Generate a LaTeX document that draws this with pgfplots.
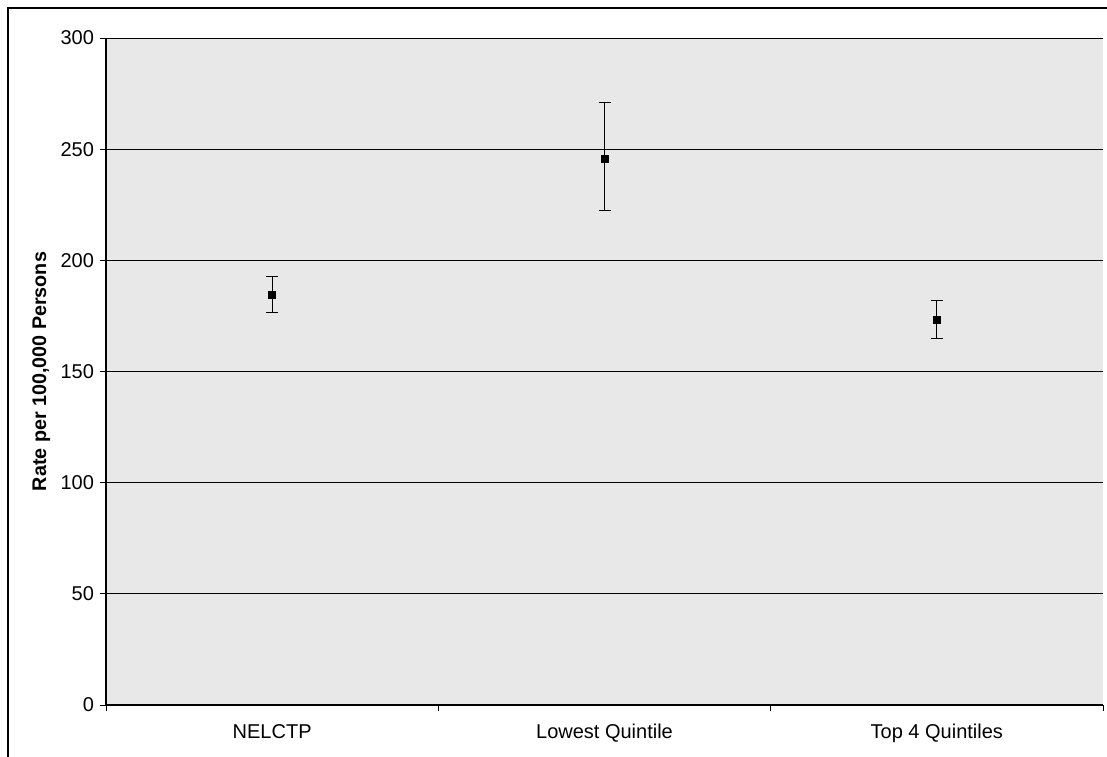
\documentclass[border=0pt]{standalone}
\usepackage{pgfplots}
\pgfplotsset{compat=1.18}
\usepackage{fontspec}
\setmainfont{Liberation Sans}
\definecolor{bgtex}{RGB}{232,232,232}
\begin{document}
\begin{tikzpicture}
\useasboundingbox (0pt,0pt) rectangle (830.25pt,567.75pt);
\draw[black,line width=0.9pt] (6pt,-2pt) rectangle (833pt,561.75pt);
\begin{axis}[
  at={(79.5pt,39pt)}, anchor=south west,
  scale only axis, width=747.75pt, height=500.25pt,
  xmin=-0.5, xmax=2.5, ymin=0, ymax=300,
  axis background/.style={fill=bgtex},
  axis x line*=bottom, axis y line*=left,
  axis line style={black,line width=0.8pt},
  xtick={-0.5,0.5,1.5,2.5}, xticklabels={},
  extra x ticks={0,1,2},
  extra x tick labels={NELCTP,Lowest Quintile,Top 4 Quintiles},
  extra x tick style={major tick length=0pt, grid=none},
  ytick={0,50,...,300},
  ymajorgrids, grid style={black,line width=0.6pt},
  tick align=outside, major tick length=4.5pt,
  tick style={black,line width=0.6pt},
  ticklabel style={font=\fontsize{15}{17}\selectfont},
  /pgf/number format/assume math mode=true,
  xticklabel style={yshift=-11pt},
  yticklabel style={xshift=-1pt},
  ylabel={\textbf{Rate per 100,000 Persons}},
  ylabel style={font=\fontsize{14.8}{17}\selectfont, yshift=1pt},
]
\addplot+[only marks, mark=square*, mark size=2.6pt, black, mark options={fill=black},
  error bars/.cd, y dir=both, y explicit,
  error mark options={rotate=90, mark size=4.5pt, line width=0.8pt},
  error bar style={line width=0.8pt}]
coordinates {
  (0,184.5) += (0,8.1) -= (0,8.0)
  (1,245.8) += (0,25.0) -= (0,23.2)
  (2,173.4) += (0,8.4) -= (0,8.4)
};
\end{axis}
\end{tikzpicture}
\end{document}
